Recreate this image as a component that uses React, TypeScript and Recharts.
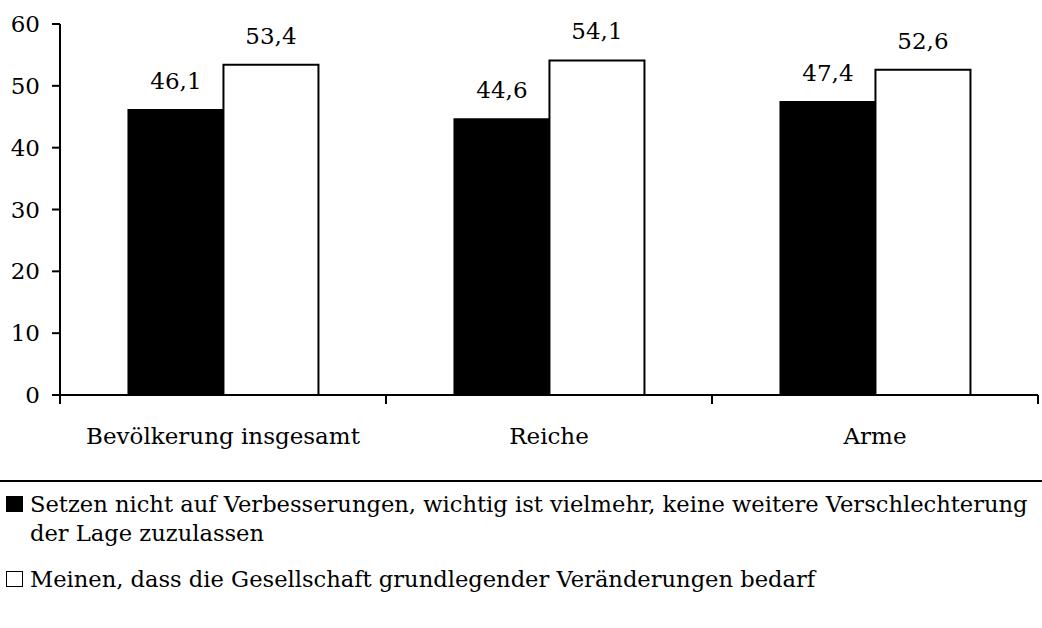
import { Bar, BarChart, LabelList, Legend, XAxis, YAxis } from "recharts";

const categories = ["Bevölkerung insgesamt", "Reiche", "Arme"];
const keineVerschlechterung = [46.1, 44.6, 47.4];
const veraenderungen = [53.4, 54.1, 52.6];
const yTicks = [0, 10, 20, 30, 40, 50, 60];

const seriesNames = [
  "Setzen nicht auf Verbesserungen, wichtig ist vielmehr, keine weitere Verschlechterung der Lage zuzulassen",
  "Meinen, dass die Gesellschaft grundlegender Veränderungen bedarf",
];
// how the legend text wraps in the original
const legendLines = [
  [
    "Setzen nicht auf Verbesserungen, wichtig ist vielmehr, keine weitere Verschlechterung",
    "der Lage zuzulassen",
  ],
  ["Meinen, dass die Gesellschaft grundlegender Veränderungen bedarf"],
];

const data = categories.map((name, i) => ({
  name,
  a: keineVerschlechterung[i],
  b: veraenderungen[i],
}));

const FONT = "'DejaVu Serif', serif";
const SIZE = 23;
const fmt = (v: unknown) => Number(v).toFixed(1).replace(".", ",");

function CategoryTick(props: any) {
  const { x, y, payload, index } = props;
  const half = payload?.offset || 163;
  const last = index === categories.length - 1;
  return (
    <g>
      <line x1={x - half} x2={x - half} y1={y} y2={y + 9} stroke="#000" strokeWidth={2} />
      {last && (
        <line x1={x + half} x2={x + half} y1={y} y2={y + 9} stroke="#000" strokeWidth={2} />
      )}
      <text x={x} y={y + 49} textAnchor="middle" fontFamily={FONT} fontSize={SIZE} fill="#000">
        {payload.value}
      </text>
    </g>
  );
}

function LegendBox() {
  const fills = ["#000", "#fff"];
  return (
    <div
      style={{
        width: 1042,
        borderTop: "2px solid #000",
        fontFamily: FONT,
        fontSize: 22.6,
        color: "#000",
        whiteSpace: "nowrap",
        overflow: "hidden",
        textAlign: "left",
      }}
    >
      {legendLines.map((lines, i) => (
        <div
          key={i}
          style={{ position: "relative", paddingLeft: 30, lineHeight: "29px", marginTop: i === 0 ? 8 : 17 }}
        >
          <span
            style={{
              position: "absolute",
              left: 6,
              top: 6,
              width: 15,
              height: 14,
              background: fills[i],
              border: "1.5px solid #000",
            }}
          />
          {lines.map((l) => (
            <div key={l}>{l}</div>
          ))}
        </div>
      ))}
    </div>
  );
}

export default function App() {
  return (
    <div style={{ position: "absolute", left: 0, top: 0, width: 1042, height: 628, background: "#fff" }}>
      <BarChart
        width={1042}
        height={628}
        data={data}
        margin={{ top: 24, right: 4, left: 0, bottom: 173 }}
        barCategoryGap="21%"
        barGap={0}
      >
        <XAxis
          dataKey="name"
          height={60}
          axisLine={{ stroke: "#000", strokeWidth: 2 }}
          tickLine={false}
          tickSize={0}
          tickMargin={0}
          tick={<CategoryTick />}
          interval={0}
        />
        <YAxis
          width={60}
          domain={[0, 60]}
          ticks={yTicks}
          axisLine={{ stroke: "#000", strokeWidth: 2 }}
          tickLine={{ stroke: "#000", strokeWidth: 2 }}
          tickSize={8}
          tickMargin={12}
          tick={{ fontFamily: FONT, fontSize: SIZE, fill: "#000" }}
        />
        <Legend
          layout="horizontal"
          verticalAlign="middle"
          align="center"
          wrapperStyle={{ top: 480, left: 0, width: 1042 }}
          content={<LegendBox />}
        />
        <Bar dataKey="a" name={seriesNames[0]} fill="#000" stroke="#000" strokeWidth={2} isAnimationActive={false}>
          <LabelList
            dataKey="a"
            position="top"
            offset={21}
            formatter={fmt}
            style={{ fontFamily: FONT, fontSize: SIZE, fill: "#000" }}
          />
        </Bar>
        <Bar dataKey="b" name={seriesNames[1]} fill="#fff" stroke="#000" strokeWidth={2} isAnimationActive={false}>
          <LabelList
            dataKey="b"
            position="top"
            offset={21}
            formatter={fmt}
            style={{ fontFamily: FONT, fontSize: SIZE, fill: "#000" }}
          />
        </Bar>
      </BarChart>
    </div>
  );
}
